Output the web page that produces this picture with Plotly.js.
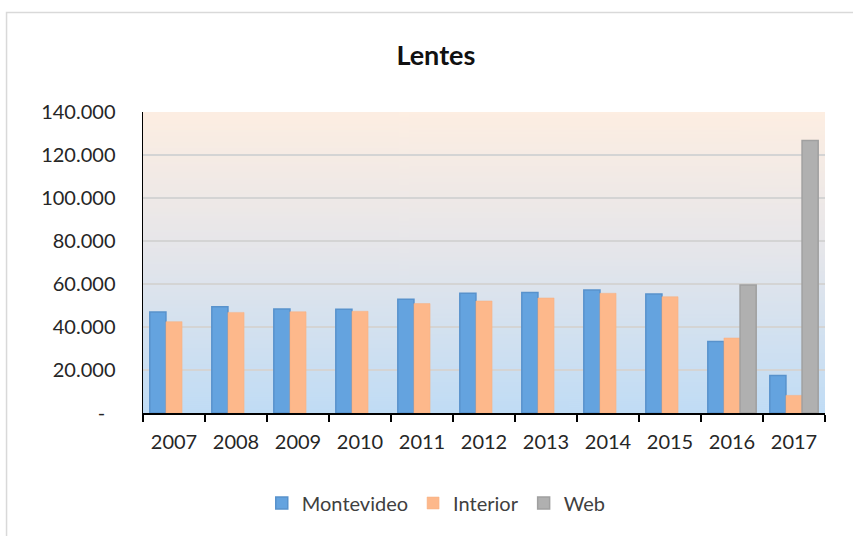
<!DOCTYPE html>
<html>
<head>
<meta charset="utf-8">
<script src="https://cdn.plot.ly/plotly-3.0.1.min.js"></script>
<style>html,body{margin:0;padding:0;background:#fff;}#chart{width:853px;height:536px;}</style>
</head>
<body>
<div id="chart"></div>
<script>
const years = ['2007','2008','2009','2010','2011','2012','2013','2014','2015','2016','2017'];
const montevideo = [47000, 49400, 48400, 48200, 52900, 55700, 56100, 57200, 55300, 33200, 17400];
const interior = [42500, 46800, 47100, 47300, 50900, 52100, 53500, 55700, 54100, 34900, 8200];
const web = [null, null, null, null, null, null, null, null, null, 59500, 126700];
const yTickVals = [0, 20000, 40000, 60000, 80000, 100000, 120000, 140000];
const yTickText = ['-\u00a0\u00a0', '20.000', '40.000', '60.000', '80.000', '100.000', '120.000', '140.000'];

// gradient background for plot area
const cv = document.createElement('canvas');
cv.width = 4; cv.height = 300;
const ctx = cv.getContext('2d');
const g = ctx.createLinearGradient(0, 0, 0, 300);
g.addColorStop(0, '#fdeee2');
g.addColorStop(0.45, '#e6e6ea');
g.addColorStop(1, '#c0dcf5');
ctx.fillStyle = g;
ctx.fillRect(0, 0, 4, 300);
const bgURL = cv.toDataURL('image/png');

const font = 'Lato, "Open Sans", sans-serif';

const traces = [
  {type: 'bar', name: 'Montevideo', x: years, y: montevideo,
   marker: {color: '#64a3df', line: {color: '#5892cc', width: 1.5}}},
  {type: 'bar', name: 'Interior', x: years, y: interior,
   marker: {color: '#fdb88b', line: {color: '#f7b083', width: 0.5}}},
  {type: 'bar', name: 'Web', x: years, y: web,
   marker: {color: '#b0b0b0', line: {color: '#a0a0a0', width: 1.5}}}
];

const layout = {
  width: 853, height: 536,
  margin: {l: 143, r: 28, t: 112, b: 123, pad: 0},
  paper_bgcolor: '#ffffff',
  plot_bgcolor: 'rgba(0,0,0,0)',
  font: {family: font, size: 20, color: '#404040'},
  title: {text: '<b>Lentes</b>', font: {family: font, size: 27, color: '#111111'},
          xref: 'container', x: 0.511, xanchor: 'center', yref: 'container', y: 0.897, yanchor: 'middle'},
  barmode: 'group', bargap: 0.22, bargroupgap: 0,
  showlegend: true,
  legend: {orientation: 'h', x: 0.43, xanchor: 'center', y: -0.299, yanchor: 'middle',
           font: {family: font, size: 20, color: '#404040'}, bgcolor: 'rgba(0,0,0,0)', traceorder: 'normal'},
  xaxis: {type: 'category', showline: true, linecolor: '#000000', linewidth: 2,
          ticks: 'outside', ticklen: 7, tickwidth: 2, tickcolor: '#000000', tickson: 'boundaries',
          showgrid: false, zeroline: false, tickfont: {family: font, size: 20, color: '#262626'},
          ticklabelstandoff: 10},
  yaxis: {range: [0, 140000], tickvals: yTickVals, ticktext: yTickText,
          showline: true, linecolor: '#000000', linewidth: 1.5, ticks: '',
          showgrid: true, gridcolor: '#d4d4d4', gridwidth: 2, zeroline: false,
          tickfont: {family: font, size: 20, color: '#262626'}, ticklabelstandoff: 22},
  images: [{source: bgURL, xref: 'paper', yref: 'paper', x: 0, y: 1, sizex: 1, sizey: 1,
            sizing: 'stretch', layer: 'below', xanchor: 'left', yanchor: 'top'}],
  shapes: [{type: 'rect', xref: 'paper', yref: 'paper', x0: -0.2001, x1: 1.2, y0: -0.6, y1: 1.3306,
            line: {color: '#d9d9d9', width: 1.5}, fillcolor: 'rgba(0,0,0,0)', layer: 'below'}]
};

Plotly.newPlot('chart', traces, layout, {staticPlot: true, displayModeBar: false});
</script>
</body>
</html>
